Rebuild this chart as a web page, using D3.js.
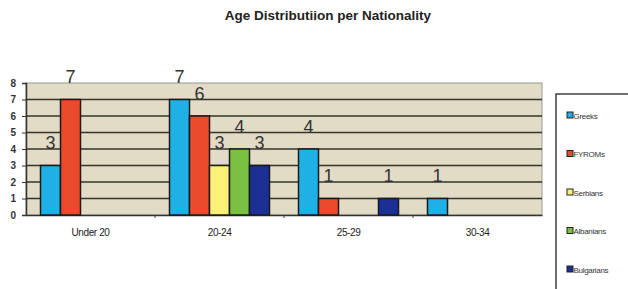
<!DOCTYPE html>
<html>
<head>
<meta charset="utf-8">
<script src="https://cdn.jsdelivr.net/npm/d3@7"></script>
<style>
  body { margin: 0; background: #fff; }
  svg { display: block; font-family: "Liberation Sans", Arial, sans-serif; }
</style>
</head>
<body>
<div id="chart"></div>
<script>
// data
var categories = ["Under 20", "20-24", "25-29", "30-34"];
var seriesNames = ["Greeks", "FYROMs", "Serbians", "Albanians", "Bulgarians"];
var greeks = [3, 7, 4, 1];
var fyroms = [7, 6, 1, 0];
var serbians = [0, 3, 0, 0];
var albanians = [0, 4, 0, 0];
var bulgarians = [0, 3, 1, 0];
var yTicks = [0, 1, 2, 3, 4, 5, 6, 7, 8];
var colors = ["#1fb0e6", "#ec4a2c", "#fbf179", "#79c043", "#1b2f94"];

var series = [greeks, fyroms, serbians, albanians, bulgarians];

var W = 628, H = 289;
var svg = d3.select("#chart").append("svg").attr("width", W).attr("height", H);

var plotL = 26, plotR = 542, plotT = 83, plotB = 215;

var x0 = d3.scaleBand().domain(categories).range([plotL, plotR]);
var x1 = d3.scaleBand().domain(seriesNames).range([14.5, 114.5]);
var y = d3.scaleLinear().domain([0, 8]).range([plotB, plotT]);

// title
svg.append("text")
	.attr("x", 328).attr("y", 20)
	.attr("text-anchor", "middle")
	.attr("font-size", 13.5)
	.attr("font-weight", "bold")
	.attr("fill", "#222")
	.text("Age Distributiion per Nationality");

// plot background
svg.append("rect")
	.attr("x", plotL).attr("y", plotT)
	.attr("width", plotR - plotL).attr("height", plotB - plotT)
	.attr("fill", "#e2dbc6")
	.attr("stroke", "#9a9a90")
	.attr("stroke-width", 1);

// gridlines
svg.append("g").selectAll("line").data(yTicks.slice(1, -1)).enter().append("line")
	.attr("x1", plotL).attr("x2", plotR)
	.attr("y1", function(d) { return y(d); })
	.attr("y2", function(d) { return y(d); })
	.attr("stroke", "#35332a")
	.attr("stroke-width", 1.3);

// y axis
var yAxis = svg.append("g").attr("transform", "translate(" + plotL + ",0)")
	.call(d3.axisLeft(y).tickValues(yTicks).tickSize(4).tickPadding(6));
yAxis.select(".domain").attr("stroke", "#333").attr("stroke-width", 1.5);
yAxis.selectAll(".tick line").attr("stroke", "#333");
yAxis.selectAll("text").attr("font-size", 10).attr("font-weight", "bold").attr("fill", "#333")
	.attr("font-family", "'Liberation Sans', Arial, sans-serif");

// x axis
var xAxis = svg.append("g").attr("transform", "translate(0," + plotB + ")")
	.call(d3.axisBottom(x0).tickSize(0).tickPadding(14));
xAxis.select(".domain").attr("stroke", "#333").attr("stroke-width", 1.5);
xAxis.selectAll("text").attr("font-size", 10).attr("fill", "#222")
	.attr("letter-spacing", -0.4)
	.attr("font-family", "'Liberation Sans', Arial, sans-serif");
xAxis.selectAll(".sep").data(categories.slice(1)).enter().append("line")
	.attr("x1", function(d) { return x0(d); })
	.attr("x2", function(d) { return x0(d); })
	.attr("y1", 0).attr("y2", 3)
	.attr("stroke", "#444");

// bars
var groups = svg.append("g").selectAll("g").data(categories).enter().append("g")
	.attr("transform", function(d) { return "translate(" + x0(d) + ",0)"; });

var cells = groups.selectAll("g").data(function(c, ci) {
	return seriesNames.map(function(s, si) { return { s: s, si: si, v: series[si][ci] }; })
		.filter(function(d) { return d.v > 0; });
}).enter().append("g");

cells.append("rect")
	.attr("x", function(d) { return x1(d.s); })
	.attr("y", function(d) { return y(d.v); })
	.attr("width", x1.bandwidth())
	.attr("height", function(d) { return y(0) - y(d.v); })
	.attr("fill", function(d) { return colors[d.si]; })
	.attr("stroke", "#1a1a1a")
	.attr("stroke-width", 1.5);

cells.append("text")
	.attr("x", function(d) { return x1(d.s) + x1.bandwidth() / 2; })
	.attr("y", function(d) { return y(d.v) - 16.5; })
	.attr("text-anchor", "middle")
	.attr("font-size", 18)
	.attr("fill", "#333")
	.text(function(d) { return d.v; });

// legend
var legend = svg.append("g").attr("transform", "translate(556,94)");
legend.append("rect")
	.attr("width", 100).attr("height", 230)
	.attr("fill", "#fff")
	.attr("stroke", "#222").attr("stroke-width", 1.3);

var items = legend.selectAll(".item").data(seriesNames).enter().append("g")
	.attr("transform", function(d, i) { return "translate(11," + (22 + i * 38.5) + ")"; });
items.append("rect")
	.attr("x", 0).attr("y", -4)
	.attr("width", 6).attr("height", 6)
	.attr("fill", function(d, i) { return colors[i]; })
	.attr("stroke", "#222").attr("stroke-width", 1);
items.append("text")
	.attr("x", 6.5).attr("y", 2.5)
	.attr("font-size", 8)
	.attr("letter-spacing", -0.3)
	.attr("fill", "#333")
	.text(function(d) { return d; });
</script>
</body>
</html>
